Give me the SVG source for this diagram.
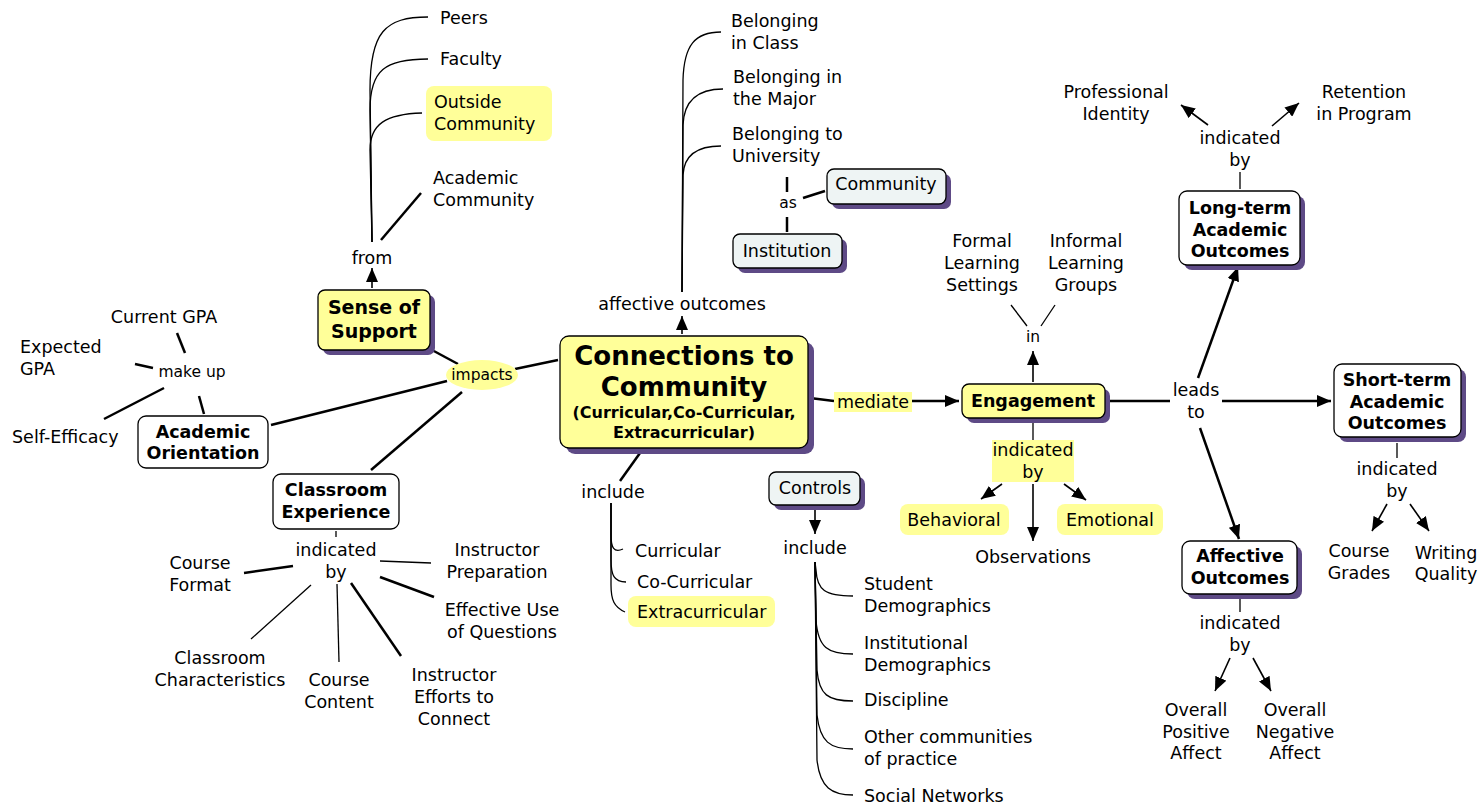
<svg xmlns="http://www.w3.org/2000/svg" width="1481" height="804" viewBox="0 0 1481 804">
<defs>
<marker id="ah" viewBox="0 0 14 12" refX="14" refY="6" markerWidth="14" markerHeight="12" markerUnits="userSpaceOnUse" orient="auto"><path d="M0,0 L14,6 L0,12 z" fill="#000"/></marker>
<style>
text{font-family:"DejaVu Sans",Verdana,sans-serif;font-size:17.5px;fill:#000}
.c{text-anchor:middle}
.b{font-weight:bold}
.s{font-size:15.5px}
.box{stroke:#000;stroke-width:1.3}
.y{fill:#ffff99}
.w{fill:#fff}
.g{fill:#eef4f4}
.sh{fill:#5e4a86}
.ln{fill:none;stroke:#000;stroke-width:1.3}
.tk{fill:none;stroke:#000;stroke-width:2.5}
.ar{fill:none;stroke:#000;stroke-width:1.6;marker-end:url(#ah)}
.art{fill:none;stroke:#000;stroke-width:2.5;marker-end:url(#ah)}
</style>
</defs>
<rect width="1481" height="804" fill="#fff"/>

<g id="connectors">
<path class="ar" d="M372,288 L372,268"/>
<path class="ln" d="M372,242 L370,90 C370,32 385,17 428,17"/>
<path class="ln" d="M372,242 L370,110 C370,70 385,59 428,59"/>
<path class="ln" d="M372,242 L370,150 C370,124 386,114 422,113"/>
<path class="tk" d="M381,240 L421,193"/>
<path class="tk" d="M432,350 L458,364"/>
<path class="tk" d="M515,369 L558,360"/>
<path class="tk" d="M447,381 L271,425"/>
<path class="tk" d="M462,392 L371,470"/>
<path class="tk" d="M177,333 L185,353"/>
<path class="tk" d="M135,364 L153,368"/>
<path class="tk" d="M104,419 L164,388"/>
<path class="tk" d="M199,396 L204,414"/>
<path class="ln" d="M336,531 L336,537"/>
<path class="tk" d="M244,573 L293,566"/>
<path class="ln" d="M380,561 L431,563"/>
<path class="tk" d="M380,577 L434,597"/>
<path class="ln" d="M311,585 L251,639"/>
<path class="ln" d="M337,584 L339,662"/>
<path class="tk" d="M351,583 L401,656"/>
<path class="tk" d="M640,453 L620,481"/>
<path class="ln" d="M611,503 L611,535 C611,548 614,553 623,549"/>
<path class="ln" d="M611,503 L611,560 C611,575 614,582 626,582"/>
<path class="ln" d="M611,503 L611,585 C611,600 614,607 625,612"/>
<path class="ar" d="M682,334 L682,316"/>
<path class="ln" d="M682,292 L683,80 C684,45 695,32 721,32"/>
<path class="ln" d="M682,292 L683,125 C684,100 698,89 723,89"/>
<path class="ln" d="M682,292 L683,175 C684,155 698,146 721,146"/>
<path class="tk" d="M787,177 L787,192"/>
<path class="tk" d="M787,217 L787,232"/>
<path class="tk" d="M803,198 L825,191"/>
<path class="tk" d="M810,398 L834,401"/>
<path class="art" d="M912,401 L959,401"/>
<path class="ar" d="M1033,382 L1033,351"/>
<path class="ln" d="M1011,305 L1027,326"/>
<path class="ln" d="M1055,305 L1041,326"/>
<path class="ln" d="M1033,420 L1033,440"/>
<path class="ar" d="M1002,484 L981,499"/>
<path class="ar" d="M1033,484 L1033,541"/>
<path class="ar" d="M1064,484 L1086,500"/>
<path class="tk" d="M1107,401 L1170,401"/>
<path class="art" d="M1222,401 L1331,401"/>
<path class="art" d="M1198,378 L1238,267"/>
<path class="art" d="M1200,428 L1239,539"/>
<path class="ln" d="M1240,189 L1240,172"/>
<path class="ar" d="M1208,125 L1181,105"/>
<path class="ar" d="M1272,126 L1299,103"/>
<path class="ln" d="M1397,443 L1397,458"/>
<path class="ar" d="M1387,504 L1372,531"/>
<path class="ar" d="M1410,504 L1429,531"/>
<path class="ln" d="M1240,598 L1240,612"/>
<path class="ar" d="M1230,658 L1215,691"/>
<path class="ar" d="M1253,658 L1271,691"/>
<path class="ar" d="M815,507 L815,534"/>
<path class="ln" d="M815,562 L816,570 C817,590 825,596 853,596"/>
<path class="ln" d="M815,562 L816,620 C818,648 828,654 853,654"/>
<path class="ln" d="M815,562 L817,670 C819,695 828,701 853,701"/>
<path class="ln" d="M815,562 L817,715 C820,742 830,749 853,749"/>
<path class="ln" d="M815,562 L817,760 C820,788 832,795 853,795"/>
</g>

<g id="main">
<rect class="sh" x="566" y="342" width="248" height="112" rx="9"/>
<rect class="box y" x="560" y="336" width="248" height="112" rx="9"/>
<text class="c b" x="684" y="365" style="font-size:26px">Connections to</text>
<text class="c b" x="684" y="396" style="font-size:26px">Community</text>
<text class="c b" x="684" y="418" style="font-size:16px">(Curricular,Co-Curricular,</text>
<text class="c b" x="684" y="438" style="font-size:16px">Extracurricular)</text>
</g>

<g id="sense-of-support">
<rect class="sh" x="323" y="295" width="112" height="60" rx="7"/>
<rect class="box y" x="318" y="290" width="112" height="60" rx="7"/>
<text class="c b" x="374" y="314" style="font-size:19px">Sense of</text>
<text class="c b" x="374" y="338" style="font-size:19px">Support</text>
</g>
<g id="from"><text class="c" x="372" y="264">from</text></g>
<g id="peers"><text x="440" y="24">Peers</text></g>
<g id="faculty"><text x="440" y="65">Faculty</text></g>
<g id="outside-community">
<rect class="y" x="426" y="86" width="126" height="55" rx="8"/>
<text x="434" y="108">Outside</text>
<text x="434" y="130">Community</text>
</g>
<g id="academic-community">
<text x="433" y="184">Academic</text>
<text x="433" y="206">Community</text>
</g>

<g id="impacts">
<ellipse cx="482" cy="375" rx="36" ry="15" fill="#ffff99"/>
<text class="c s" x="482" y="380">impacts</text>
</g>

<g id="academic-orientation">
<rect class="box w" x="138" y="416" width="130" height="52" rx="8"/>
<text class="c b" x="203" y="438">Academic</text>
<text class="c b" x="203" y="459">Orientation</text>
</g>
<g id="make-up"><text class="c s" x="192" y="377">make up</text></g>
<g id="current-gpa"><text class="c" x="164" y="323">Current GPA</text></g>
<g id="expected-gpa"><text x="20" y="353">Expected</text><text x="20" y="375">GPA</text></g>
<g id="self-efficacy"><text x="12" y="443">Self-Efficacy</text></g>

<g id="classroom-experience">
<rect class="box w" x="273" y="474" width="126" height="55" rx="8"/>
<text class="c b" x="336" y="496">Classroom</text>
<text class="c b" x="336" y="518">Experience</text>
</g>
<g id="classroom-indicated-by"><text class="c" x="336" y="556">indicated</text><text class="c" x="336" y="578">by</text></g>
<g id="course-format"><text class="c" x="200" y="569">Course</text><text class="c" x="200" y="591">Format</text></g>
<g id="instructor-preparation"><text class="c" x="497" y="556">Instructor</text><text class="c" x="497" y="578">Preparation</text></g>
<g id="effective-use"><text class="c" x="502" y="616">Effective Use</text><text class="c" x="502" y="638">of Questions</text></g>
<g id="classroom-characteristics"><text class="c" x="220" y="664">Classroom</text><text class="c" x="220" y="686">Characteristics</text></g>
<g id="course-content"><text class="c" x="339" y="686">Course</text><text class="c" x="339" y="708">Content</text></g>
<g id="instructor-efforts"><text class="c" x="454" y="681">Instructor</text><text class="c" x="454" y="703">Efforts to</text><text class="c" x="454" y="725">Connect</text></g>

<g id="main-include"><text class="c" x="613" y="498">include</text></g>
<g id="curricular"><text x="635" y="557">Curricular</text></g>
<g id="co-curricular"><text x="637" y="588">Co-Curricular</text></g>
<g id="extracurricular">
<rect class="y" x="628" y="596" width="147" height="31" rx="8"/>
<text x="637" y="618">Extracurricular</text>
</g>

<g id="affective-outcomes-label"><text class="c" x="682" y="310">affective outcomes</text></g>
<g id="belonging-class"><text x="731" y="27">Belonging</text><text x="731" y="49">in Class</text></g>
<g id="belonging-major"><text x="733" y="83">Belonging in</text><text x="733" y="105">the Major</text></g>
<g id="belonging-university"><text x="732" y="140">Belonging to</text><text x="732" y="162">University</text></g>
<g id="as"><text class="c s" x="788" y="208">as</text></g>
<g id="community">
<rect class="sh" x="832" y="174" width="119" height="35" rx="7"/>
<rect class="box g" x="827" y="169" width="119" height="35" rx="7"/>
<text class="c" x="886" y="190">Community</text>
</g>
<g id="institution">
<rect class="sh" x="738" y="239" width="109" height="34" rx="7"/>
<rect class="box g" x="733" y="234" width="109" height="34" rx="7"/>
<text class="c" x="787" y="257">Institution</text>
</g>

<g id="mediate">
<rect class="y" x="834" y="392" width="78" height="20"/>
<text class="c" x="873" y="408">mediate</text>
</g>

<g id="engagement">
<rect class="sh" x="967" y="389" width="143" height="34" rx="7"/>
<rect class="box y" x="962" y="384" width="143" height="34" rx="7"/>
<text class="c b" x="1033" y="407">Engagement</text>
</g>
<g id="in"><text class="c s" x="1033" y="342">in</text></g>
<g id="formal"><text class="c" x="982" y="247">Formal</text><text class="c" x="982" y="269">Learning</text><text class="c" x="982" y="291">Settings</text></g>
<g id="informal"><text class="c" x="1086" y="247">Informal</text><text class="c" x="1086" y="269">Learning</text><text class="c" x="1086" y="291">Groups</text></g>
<g id="engagement-indicated-by">
<rect class="y" x="992" y="440" width="82" height="42"/>
<text class="c" x="1033" y="456">indicated</text><text class="c" x="1033" y="478">by</text>
</g>
<g id="behavioral">
<rect class="y" x="900" y="504" width="109" height="31" rx="8"/>
<text class="c" x="954" y="526">Behavioral</text>
</g>
<g id="emotional">
<rect class="y" x="1057" y="504" width="106" height="31" rx="8"/>
<text class="c" x="1110" y="526">Emotional</text>
</g>
<g id="observations"><text class="c" x="1033" y="563">Observations</text></g>

<g id="leads-to"><text class="c" x="1196" y="396">leads</text><text class="c" x="1196" y="418">to</text></g>

<g id="long-term">
<rect class="sh" x="1184" y="196" width="121" height="74" rx="8"/>
<rect class="box w" x="1179" y="191" width="121" height="74" rx="8"/>
<text class="c b" x="1240" y="214">Long-term</text>
<text class="c b" x="1240" y="236">Academic</text>
<text class="c b" x="1240" y="257">Outcomes</text>
</g>
<g id="long-indicated-by"><text class="c" x="1240" y="144">indicated</text><text class="c" x="1240" y="166">by</text></g>
<g id="professional-identity"><text class="c" x="1116" y="98">Professional</text><text class="c" x="1116" y="120">Identity</text></g>
<g id="retention"><text class="c" x="1364" y="98">Retention</text><text class="c" x="1364" y="120">in Program</text></g>

<g id="short-term">
<rect class="sh" x="1339" y="369" width="127" height="73" rx="8"/>
<rect class="box w" x="1334" y="364" width="127" height="73" rx="8"/>
<text class="c b" x="1397" y="386">Short-term</text>
<text class="c b" x="1397" y="408">Academic</text>
<text class="c b" x="1397" y="429">Outcomes</text>
</g>
<g id="short-indicated-by"><text class="c" x="1397" y="475">indicated</text><text class="c" x="1397" y="497">by</text></g>
<g id="course-grades"><text class="c" x="1359" y="557">Course</text><text class="c" x="1359" y="579">Grades</text></g>
<g id="writing-quality"><text class="c" x="1446" y="559">Writing</text><text class="c" x="1446" y="580">Quality</text></g>

<g id="affective-outcomes">
<rect class="sh" x="1187" y="546" width="115" height="53" rx="8"/>
<rect class="box w" x="1182" y="541" width="115" height="53" rx="8"/>
<text class="c b" x="1240" y="562">Affective</text>
<text class="c b" x="1240" y="584">Outcomes</text>
</g>
<g id="affective-indicated-by"><text class="c" x="1240" y="629">indicated</text><text class="c" x="1240" y="651">by</text></g>
<g id="positive"><text class="c" x="1196" y="716">Overall</text><text class="c" x="1196" y="738">Positive</text><text class="c" x="1196" y="759">Affect</text></g>
<g id="negative"><text class="c" x="1295" y="716">Overall</text><text class="c" x="1295" y="738">Negative</text><text class="c" x="1295" y="759">Affect</text></g>

<g id="controls">
<rect class="sh" x="774" y="477" width="91" height="33" rx="7"/>
<rect class="box g" x="769" y="472" width="91" height="33" rx="7"/>
<text class="c" x="815" y="494">Controls</text>
</g>
<g id="controls-include"><text class="c" x="815" y="554">include</text></g>
<g id="student-demographics"><text x="864" y="590">Student</text><text x="864" y="612">Demographics</text></g>
<g id="institutional-demographics"><text x="864" y="649">Institutional</text><text x="864" y="671">Demographics</text></g>
<g id="discipline"><text x="864" y="706">Discipline</text></g>
<g id="other-communities"><text x="864" y="743">Other communities</text><text x="864" y="765">of practice</text></g>
<g id="social-networks"><text x="864" y="802">Social Networks</text></g>
</svg>
